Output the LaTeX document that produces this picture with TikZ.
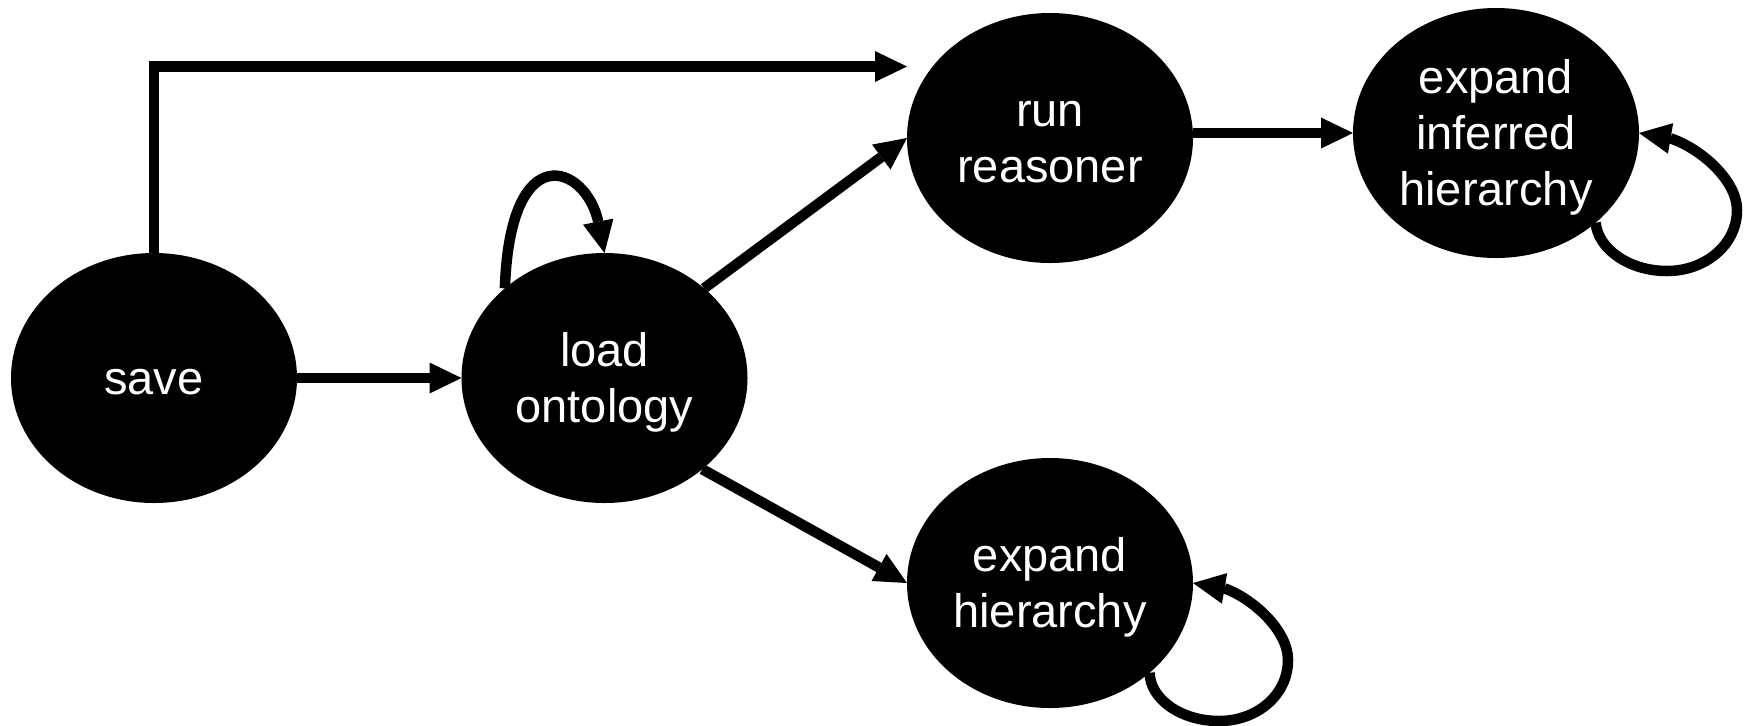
\documentclass[tikz,border=0pt]{standalone}
\usepackage{fontspec}
\setmainfont{Liberation Sans}
\usetikzlibrary{arrows.meta,shapes.geometric,calc}
\newcommand\vstrut{\rule[-5pt]{0pt}{26.3pt}}
\begin{document}
\begin{tikzpicture}[x=0.5pt,y=-0.5pt,
  state/.style={ellipse, fill=black, draw=none, text=white,
    minimum width=143pt, minimum height=125pt, inner sep=0pt, outer sep=0pt,
    align=center, font=\fontsize{23.5pt}{28pt}\selectfont},
  arr/.style={line width=5.25pt, -{Triangle[length=16pt,width=15.5pt,line width=0pt]}}]
\useasboundingbox (0,0) rectangle (1746,725);
\node[state] (save) at (154,378) {\vstrut save\vstrut};
\node[state] (load) at (604.5,378) {\vstrut load\\ontology\vstrut};
\node[state] (run) at (1050,138) {\vstrut run\\reasoner\vstrut};
\node[state] (inf) at (1496,133) {\vstrut expand\\inferred\\hierarchy\vstrut};
\node[state] (hier) at (1050,583) {\vstrut expand\\hierarchy\vstrut};
\coordinate (c1) at (154,66.5);
% edges
\draw[arr] (save.north) -- (c1) -- (c1 -| run.west);
\draw[arr] (save) -- (load);
\draw[arr] (load.42) -- (run.west);
\draw[arr] (load.-43) -- (hier.west);
\draw[arr] (run.east |- inf.west) -- (inf.west);
% self loops
\draw[arr] (load.138) .. controls ($(load)+(-94.5,-243)$) and ($(load)+(-18.5,-213)$)
  .. ($(load.north)+(-6.3,-31.4)$) -- (load.north);
\draw[arr] (inf.318) .. controls ($(inf)+(102,116)$) and ($(inf)+(133,138)$) .. ($(inf)+(171,138)$)
  .. controls ($(inf)+(209,138)$) and ($(inf)+(241,112)$) .. ($(inf)+(241,77)$)
  .. controls ($(inf)+(241,47)$) and ($(inf)+(204,15)$) .. ($(inf.east)+(31.5,5.4)$) -- (inf.east);
\draw[arr] (hier.318) .. controls ($(hier)+(100,116)$) and ($(hier)+(131,138)$) .. ($(hier)+(169,138)$)
  .. controls ($(hier)+(207,138)$) and ($(hier)+(238,112)$) .. ($(hier)+(238,77)$)
  .. controls ($(hier)+(238,47)$) and ($(hier)+(202,15)$) .. ($(hier.east)+(31.5,5.4)$) -- (hier.east);
\end{tikzpicture}
\end{document}
